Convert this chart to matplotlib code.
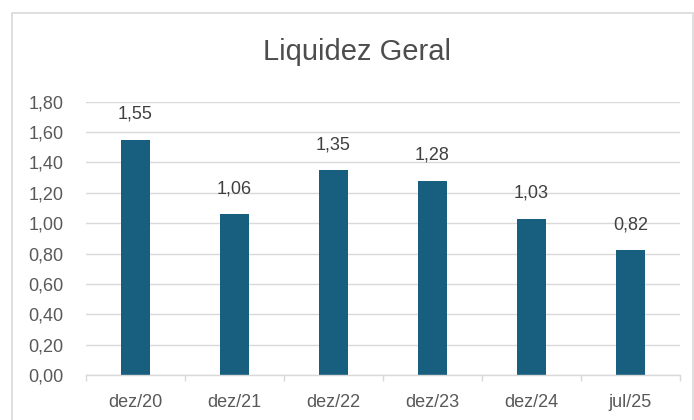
import matplotlib
matplotlib.use("Agg")
import matplotlib.pyplot as plt
from matplotlib.patches import Rectangle

categories = ["dez/20", "dez/21", "dez/22", "dez/23", "dez/24", "jul/25"]
values = [1.55, 1.06, 1.35, 1.28, 1.03, 0.82]
yticks = [0.0, 0.2, 0.4, 0.6, 0.8, 1.0, 1.2, 1.4, 1.6, 1.8]

def fmt(v):
    return f"{v:.2f}".replace(".", ",")

plt.rcParams['font.family'] = ['Liberation Sans', 'DejaVu Sans']

fig = plt.figure(figsize=(6.94, 4.20), dpi=100)
fig.patch.set_facecolor("white")
# chart border
fig.patches.append(Rectangle((12/694, -0.01), (693-12)/694, (420-13)/420 + 0.01,
                             transform=fig.transFigure, fill=False,
                             edgecolor="#d9d9d9", linewidth=1.2))

ax = fig.add_axes([86/694, 45/420, 594/694, 273.3/420])
x = list(range(len(categories)))
ax.bar(x, values, width=0.3, color="#175E7F", zorder=3)

ax.set_xlim(-0.5, len(categories) - 0.5)
ax.set_ylim(0, 1.8)
ax.set_yticks(yticks)
ax.set_yticklabels([fmt(v) for v in yticks])
ax.set_xticks(x)
ax.set_xticklabels(categories)
ax.set_xticks([i - 0.5 for i in range(len(categories) + 1)], minor=True)

ax.grid(axis="y", color="#d9d9d9", linewidth=1, zorder=0)
for s in ["top", "right", "left"]:
    ax.spines[s].set_visible(False)
ax.spines["bottom"].set_color("#d9d9d9")
ax.spines["bottom"].set_linewidth(1)
ax.spines["bottom"].set_zorder(4)

ax.tick_params(axis="y", length=0, pad=16, labelsize=13, labelcolor="#595959")
ax.tick_params(axis="x", which="major", length=0, pad=14, labelsize=13, labelcolor="#595959")
ax.tick_params(axis="x", which="minor", length=4, width=1, color="#d9d9d9")

for xi, v in zip(x, values):
    ax.annotate(fmt(v), (xi, v), xytext=(0, 12), textcoords="offset points",
                ha="center", va="bottom", fontsize=13, color="#404040")

fig.text(357/694, 1 - 52/420, "Liquidez Geral", ha="center", va="center",
         fontsize=21, color="#4d4d4d")

fig.savefig("out.png", dpi=100)
